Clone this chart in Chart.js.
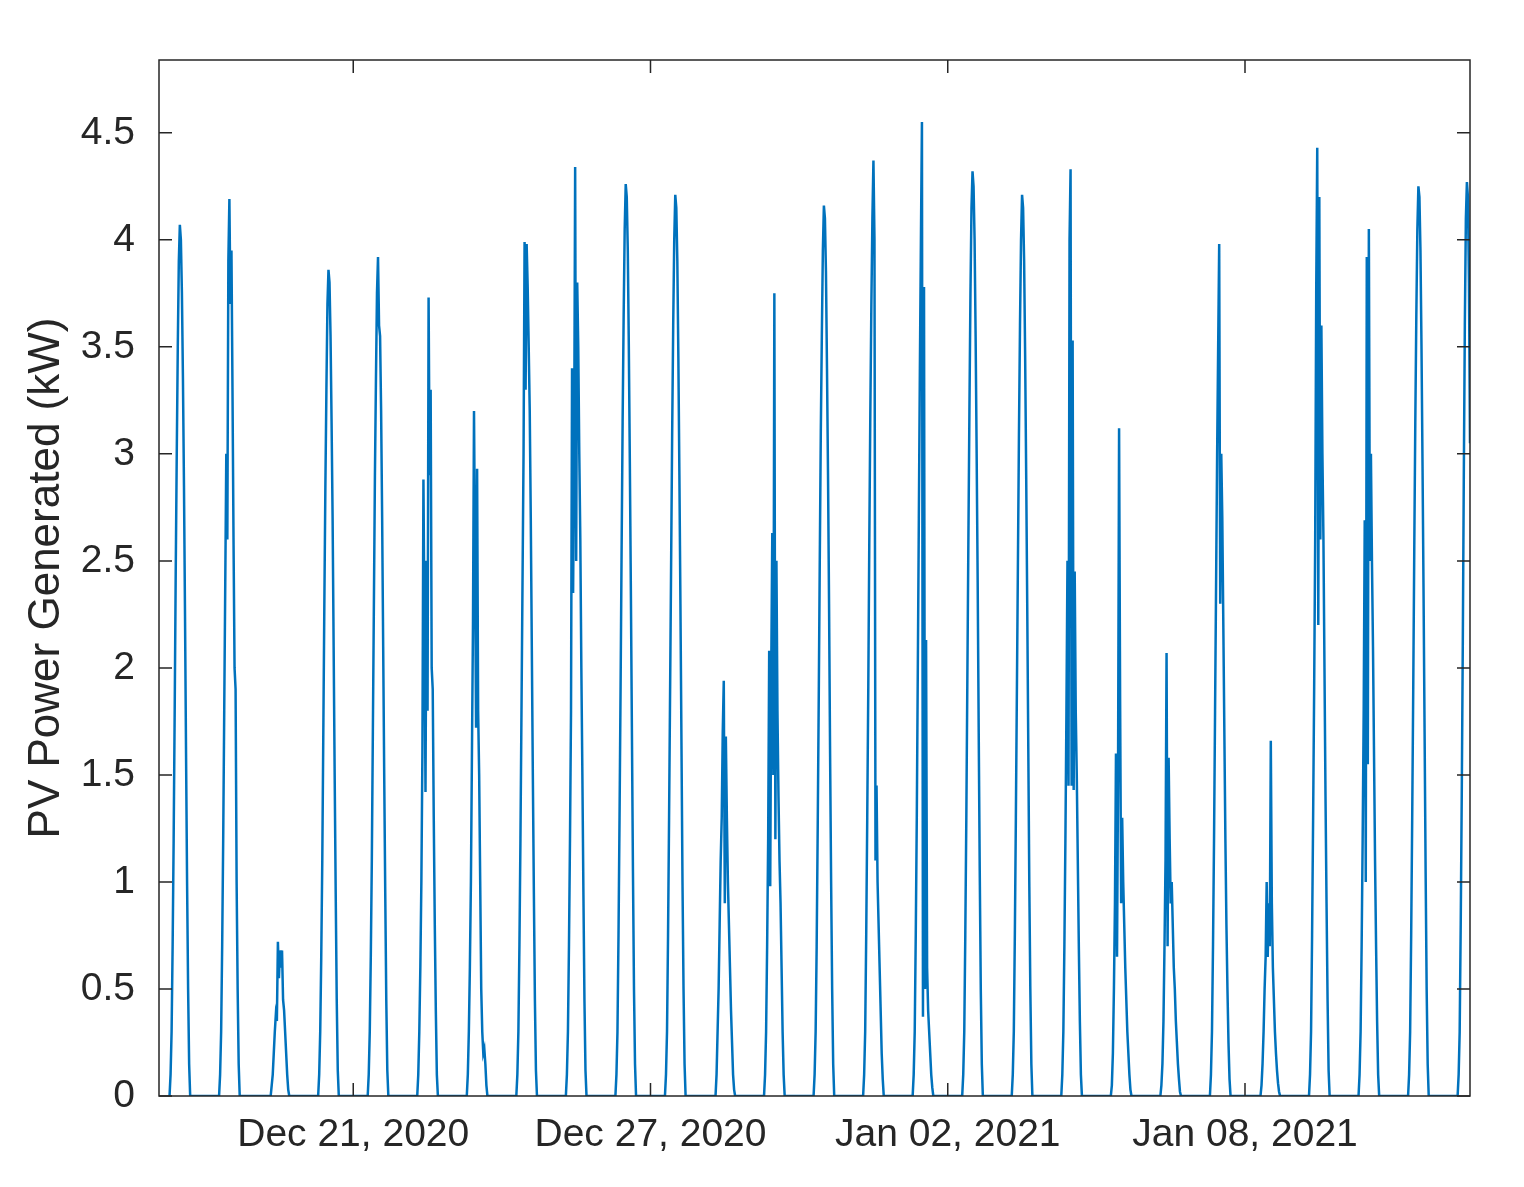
<!DOCTYPE html>
<html><head><meta charset="utf-8">
<script src="https://cdn.jsdelivr.net/npm/chart.js@4"></script>
<style>html,body{margin:0;background:#fff}#w{width:1524px;height:1187px}</style>
</head><body><div id="w"><canvas id="c"></canvas></div>
<script>
// First day of data and half-hour profile (07:00 .. 17:00) per day, kW
const firstDay = "2020-12-17";
const sampleHours = [7,7.5,8,8.5,9,9.5,10,10.5,11,11.5,12,12.5,13,13.5,14,14.5,15,15.5,16,16.5,17];
const dailyProfiles = [
 [0,0.1,0.3,0.7,1.2,1.8,2.45,3.0,3.5,3.9,4.07,4.0,3.75,3.35,2.85,2.25,1.6,1.0,0.5,0.15,0],
 [0,0.1,0.3,0.7,1.2,1.8,2.4,3.0,2.6,3.9,4.19,3.7,3.95,3.3,2.6,2.0,1.9,1.0,0.5,0.15,0],
 [0,0,0,0.05,0.1,0.2,0.3,0.38,0.35,0.72,0.55,0.68,0.6,0.68,0.45,0.4,0.3,0.2,0.1,0.03,0],
 [0,0.1,0.3,0.65,1.1,1.7,2.3,2.85,3.3,3.7,3.86,3.8,3.55,3.15,2.7,2.1,1.5,0.95,0.45,0.12,0],
 [0,0.1,0.3,0.65,1.1,1.7,2.3,2.9,3.35,3.75,3.92,3.6,3.55,3.2,2.7,2.1,1.5,0.95,0.45,0.12,0],
 [0,0.1,0.3,0.6,1.0,1.6,2.88,2.2,1.42,2.5,1.8,3.73,2.9,3.3,2.0,1.9,1.3,0.8,0.4,0.1,0],
 [0,0.1,0.3,0.6,1.0,1.6,2.2,3.2,2.5,1.72,2.93,1.8,1.5,1.0,0.5,0.3,0.2,0.22,0.15,0.05,0],
 [0,0.1,0.3,0.7,1.2,1.8,2.4,3.0,3.99,3.3,3.98,3.78,3.5,3.2,2.7,2.1,1.5,0.95,0.45,0.12,0],
 [0,0.1,0.3,0.7,1.2,1.8,3.4,2.35,3.0,4.34,2.5,3.8,3.5,3.0,2.6,2.0,1.5,0.95,0.45,0.12,0],
 [0,0.1,0.3,0.75,1.3,1.9,2.55,3.15,3.65,4.05,4.26,4.2,3.95,3.5,2.95,2.35,1.7,1.05,0.5,0.15,0],
 [0,0.1,0.3,0.75,1.3,1.9,2.5,3.1,3.6,4.0,4.21,4.15,3.9,3.45,2.9,2.3,1.65,1.0,0.5,0.15,0],
 [0,0,0.1,0.3,0.5,0.8,1.1,1.3,1.7,1.94,0.9,1.68,1.3,1.0,0.8,0.6,0.4,0.25,0.1,0.03,0],
 [0,0.1,0.3,0.7,1.2,2.08,0.98,2.0,2.63,1.5,3.75,1.2,2.5,1.8,1.4,1.1,0.9,0.6,0.3,0.1,0],
 [0,0.1,0.3,0.7,1.25,1.85,2.5,3.1,3.55,3.95,4.16,4.1,3.85,3.4,2.9,2.3,1.6,1.0,0.5,0.15,0],
 [0,0.1,0.3,0.75,1.3,1.9,2.6,3.2,3.7,4.1,4.37,4.0,1.1,1.45,1.0,0.8,0.6,0.4,0.2,0.08,0],
 [0,0.1,0.3,0.75,1.3,2.0,2.7,3.4,4.0,4.55,0.37,3.78,0.5,2.13,0.6,0.4,0.3,0.2,0.1,0.04,0],
 [0,0.1,0.3,0.75,1.3,1.95,2.6,3.2,3.75,4.15,4.32,4.25,4.0,3.55,3.0,2.4,1.7,1.05,0.5,0.15,0],
 [0,0.1,0.3,0.75,1.3,1.9,2.5,3.1,3.6,4.0,4.21,4.15,3.9,3.45,2.9,2.3,1.65,1.0,0.5,0.15,0],
 [0,0.1,0.3,0.7,1.2,1.8,2.5,1.45,4.0,4.33,1.45,3.53,1.43,2.45,1.8,1.5,1.1,0.7,0.35,0.1,0],
 [0,0.05,0.2,0.5,0.9,1.6,0.65,1.5,3.12,1.85,0.9,1.3,1.0,0.8,0.6,0.45,0.3,0.2,0.1,0.03,0],
 [0,0.05,0.15,0.35,0.7,1.1,2.07,0.7,1.58,1.2,0.9,1.0,0.8,0.6,0.5,0.35,0.25,0.15,0.08,0.02,0],
 [0,0.1,0.3,0.7,1.2,1.8,2.4,3.0,3.5,3.98,2.3,3.0,2.7,2.2,1.7,1.2,0.8,0.5,0.25,0.08,0],
 [0,0,0.05,0.15,0.3,0.5,0.65,1.0,0.65,0.9,0.7,1.66,0.9,0.6,0.45,0.3,0.2,0.12,0.06,0.02,0],
 [0,0.1,0.3,0.75,1.3,1.9,2.6,3.75,4.43,2.2,4.2,2.6,3.6,3.0,2.6,2.0,1.4,0.9,0.45,0.12,0],
 [0,0.1,0.3,0.7,1.2,1.8,2.69,1.0,3.92,1.55,4.05,2.5,3.0,2.5,2.1,1.6,1.1,0.7,0.35,0.1,0],
 [0,0.1,0.3,0.75,1.3,1.9,2.55,3.15,3.65,4.05,4.25,4.2,3.95,3.5,2.95,2.35,1.7,1.05,0.5,0.15,0],
 [0,0.1,0.3,0.8,1.4,2.1,2.9,3.6,4.1,4.27,4.2,3.8,3.05]
];
const xTickDates = ["2020-12-21","2020-12-27","2021-01-02","2021-01-08"];
const xTickLabels = ["Dec 21, 2020","Dec 27, 2020","Jan 02, 2021","Jan 08, 2021"];
const yTicks = [0,0.5,1,1.5,2,2.5,3,3.5,4,4.5];

const H = 3600e3, D = 24*H;
const t0 = Date.UTC(2020,11,17);
const pts = [];
dailyProfiles.forEach((p,d)=>p.forEach((v,i)=>pts.push({x:t0+d*D+sampleHours[i]*H,y:v})));
const xMin = t0 + 1.9*H, xMax = Date.UTC(2021,0,12) + 13*H;
const tickMs = xTickDates.map(s=>Date.parse(s+"T00:00:00Z"));
const font = "'Liberation Sans', Arial, sans-serif";

const innerTicks = {id:'inner',afterDraw(ch){
  const c=ch.ctx,a=ch.chartArea,x=ch.scales.x,y=ch.scales.y;
  c.save();c.strokeStyle='#262626';c.lineWidth=1.5;c.beginPath();
  tickMs.forEach(t=>{const p=x.getPixelForValue(t);c.moveTo(p,a.bottom);c.lineTo(p,a.bottom-13);c.moveTo(p,a.top);c.lineTo(p,a.top+13);});
  yTicks.forEach(v=>{const p=y.getPixelForValue(v);c.moveTo(a.left,p);c.lineTo(a.left+13,p);c.moveTo(a.right,p);c.lineTo(a.right-13,p);});
  c.stroke();c.strokeRect(a.left,a.top,a.right-a.left,a.bottom-a.top);c.restore();}};

new Chart(document.getElementById('c'),{
 type:'line',
 data:{datasets:[{data:pts,borderColor:'#0072BD',borderWidth:2.5,pointRadius:0,tension:0}]},
 options:{responsive:true,maintainAspectRatio:false,animation:false,
  layout:{padding:{top:60,right:54,left:0,bottom:0}},
  plugins:{legend:{display:false},tooltip:{enabled:false}},
  scales:{
   x:{type:'linear',min:xMin,max:xMax,
      afterBuildTicks(s){s.ticks=tickMs.map(v=>({value:v}));},
      afterFit(s){s.height=91;},
      grid:{display:false},border:{display:false},
      ticks:{autoSkip:false,maxRotation:0,color:'#262626',font:{family:font,size:39},padding:8,
        callback:(v)=>xTickLabels[tickMs.indexOf(v)]}},
   y:{min:0,max:4.84,
      afterBuildTicks(s){s.ticks=yTicks.map(v=>({value:v}));},
      afterFit(s){s.width=159;},
      grid:{display:false},border:{display:false},
      ticks:{color:'#262626',font:{family:font,size:39},padding:16,callback:v=>String(v)},
      title:{display:true,text:'PV Power Generated (kW)',color:'#262626',font:{family:font,size:44},padding:{top:20,bottom:6}}}
  }},
 plugins:[innerTicks]
});
</script></body></html>
